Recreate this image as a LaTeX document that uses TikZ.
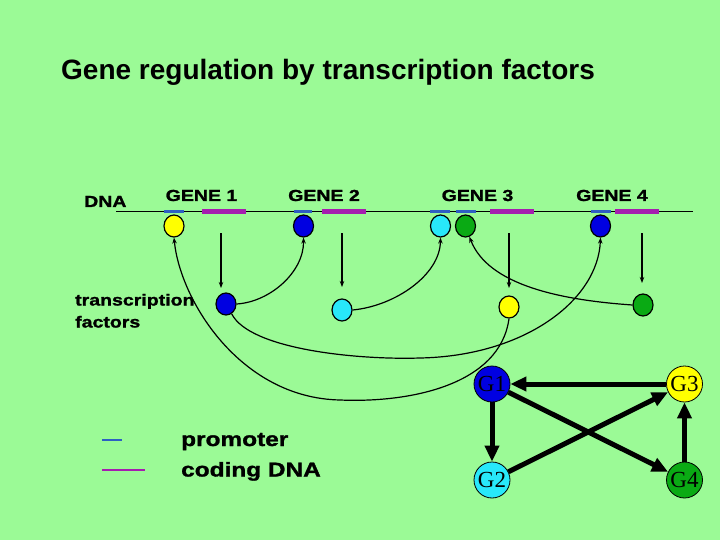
\documentclass[tikz,border=0pt]{standalone}
\usepackage{fontspec}
\setmainfont{Liberation Sans}
\newfontfamily\wide[FakeStretch=1.22,FakeBold=1.4]{Liberation Sans}
\newfontfamily\tms{Liberation Serif}
\usetikzlibrary{shapes.geometric,arrows.meta}
\definecolor{bg}{RGB}{155,250,150}
\definecolor{promblue}{RGB}{45,95,195}
\definecolor{codemag}{RGB}{165,30,175}
\definecolor{tfblue}{RGB}{0,0,225}
\definecolor{tfcyan}{RGB}{40,232,250}
\definecolor{tfyellow}{RGB}{255,255,0}
\definecolor{tfgreen}{RGB}{10,170,20}
\begin{document}
\begin{tikzpicture}[x=1pt,y=-1pt,
  lbl/.style={font=\wide\bfseries\fontsize{16}{19}\selectfont, inner sep=0pt},
  leg/.style={font=\wide\bfseries\fontsize{20}{24}\selectfont, inner sep=0pt, anchor=base west},
  tf/.style={ellipse, draw=black, line width=1.2pt, minimum width=20pt, minimum height=22pt, inner sep=0pt},
  arr/.style={-{Stealth[length=6pt,width=4.5pt]}, line width=1.2pt},
  prom/.style={promblue, line width=3pt},
  cod/.style={codemag, line width=5pt},
  gnode/.style={circle, draw=black, line width=0.8pt, minimum size=36pt, inner sep=0pt, font=\tms\fontsize{23}{23}\selectfont},
  big/.style={-{Triangle[length=16pt,width=14pt]}, line width=5pt}]
\useasboundingbox[fill=bg] (0,0) rectangle (720,540);

% title
\node[anchor=base west, inner sep=0pt, font=\bfseries\fontsize{28}{33}\selectfont] (title) at (61,80) {Gene regulation by transcription factors};

% DNA line and labels
\node[lbl, anchor=base west] (dna) at (84,207) {DNA};
\node[lbl, anchor=base] (g1l) at (201.5,201) {GENE 1};
\node[lbl, anchor=base] (g2l) at (324,201) {GENE 2};
\node[lbl, anchor=base] (g3l) at (477.5,201) {GENE 3};
\node[lbl, anchor=base] (g4l) at (612,201) {GENE 4};
\draw[line width=1pt] (116,212) -- (693,212);

% promoters and coding regions
\draw[prom] (164,212) -- (184,212);
\draw[cod] (202,212) -- (246,212);
\draw[prom] (294,212) -- (312,212);
\draw[cod] (322,212) -- (366,212);
\draw[prom] (430,212) -- (450,212);
\draw[prom] (456,212) -- (476,212);
\draw[cod] (490,212) -- (534,212);
\draw[prom] (591,212) -- (611,212);
\draw[cod] (615,212) -- (659,212);

% bound transcription factors
\node[tf, fill=tfyellow] (p1) at (174,226) {};
\node[tf, fill=tfblue] (p2) at (303.5,226) {};
\node[tf, fill=tfcyan] (p3a) at (440.5,226) {};
\node[tf, fill=tfgreen] (p3b) at (465.5,226) {};
\node[tf, fill=tfblue] (p4) at (600.5,226) {};

% free transcription factors
\node[lbl, anchor=base west] (tfl) at (75,305.5) {transcription};
\node[lbl, anchor=base west] (tfl2) at (75,327.5) {factors};
\node[tf, fill=tfblue] (t1) at (226,304) {};
\node[tf, fill=tfcyan] (t2) at (342,310) {};
\node[tf, fill=tfyellow] (t3) at (509,307) {};
\node[tf, fill=tfgreen] (t4) at (643,305) {};

% expression arrows
\coordinate (e1s) at (221,233); \coordinate (e1e) at (221,288);
\coordinate (e2s) at (342,233); \coordinate (e2e) at (342,287);
\coordinate (e3s) at (509,233); \coordinate (e3e) at (509,288);
\coordinate (e4s) at (642,233); \coordinate (e4e) at (642,283);
\draw[arr] (e1s) -- (e1e);
\draw[arr] (e2s) -- (e2e);
\draw[arr] (e3s) -- (e3e);
\draw[arr] (e4s) -- (e4e);

% regulation curves
\draw[arr] (t1.east) .. controls (270,302) and (304,272) .. (p2.south);
\draw[arr] (t2.east) .. controls (395,306) and (440,275) .. (p3a.south);
\draw[arr] (t1.-60) .. controls (250,350) and (360,360) .. (420,358) .. controls (525,356) and (598,300) .. (p4.south);
\draw[arr] (t3.south) .. controls (500,385) and (410,403) .. (340,400) .. controls (240,398) and (180,300) .. (p1.south);
\draw[arr] (t4.west) .. controls (560,300) and (488,285) .. (p3b.-70);

% legend
\coordinate (lp1) at (102,440); \coordinate (lp2) at (122,440);
\coordinate (lc1) at (102,470); \coordinate (lc2) at (145,470);
\draw[promblue, line width=2.5pt] (lp1) -- (lp2);
\draw[codemag, line width=2.5pt] (lc1) -- (lc2);
\node[leg] (lpt) at (181,446) {promoter};
\node[leg] (lct) at (181,476.5) {coding DNA};

% network
\node[gnode, fill=tfblue] (G1) at (492,384) {G1};
\node[gnode, fill=tfyellow] (G3) at (684.5,384) {G3};
\node[gnode, fill=tfcyan] (G2) at (492,480) {G2};
\node[gnode, fill=tfgreen] (G4) at (684.5,480) {G4};
\draw[big] (G3) -- (G1);
\draw[big] (G1) -- (G2);
\draw[big] (G2) -- (G3);
\draw[big] (G1) -- (G4);
\draw[big] (G4) -- (G3);
\end{tikzpicture}
\end{document}
